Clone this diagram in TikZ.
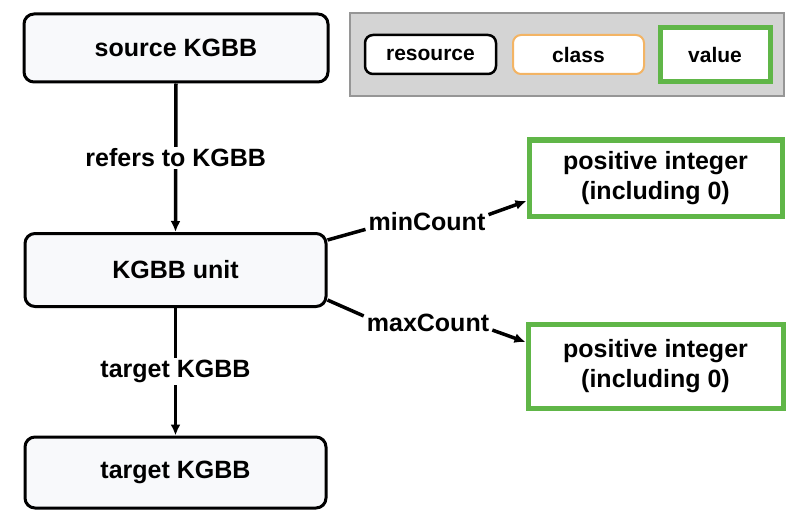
\documentclass[tikz,border=0pt]{standalone}
\usepackage{fontspec}
\setmainfont{Liberation Sans}
\usetikzlibrary{arrows.meta}
\definecolor{boxfill}{RGB}{248,249,251}
\definecolor{leggray}{RGB}{212,212,212}
\definecolor{legborder}{RGB}{150,150,150}
\definecolor{valgreen}{RGB}{96,182,72}
\definecolor{clsorange}{RGB}{243,180,100}
\tikzset{
  every node/.style={font=\bfseries\fontsize{25}{30}\selectfont, align=center},
  resbox/.style={draw=black, line width=3pt, rounded corners=10pt, fill=boxfill, inner sep=0pt},
  valbox/.style={draw=valgreen, line width=5pt, fill=white, inner sep=0pt},
  legres/.style={draw=black, line width=2.5pt, rounded corners=8pt, fill=white, inner sep=0pt,
    minimum width=131pt, minimum height=39pt, font=\bfseries\fontsize{21}{25}\selectfont},
  legcls/.style={draw=clsorange, line width=2pt, rounded corners=8pt, fill=white, inner sep=0pt,
    minimum width=131pt, minimum height=39pt, font=\bfseries\fontsize{21}{25}\selectfont},
  legval/.style={draw=valgreen, line width=5pt, fill=white, inner sep=0pt,
    minimum width=110pt, minimum height=54pt, font=\bfseries\fontsize{21}{25}\selectfont},
  conn/.style={line width=3.5pt, draw=black},
  arr/.style={conn, -{Latex[length=11pt,width=10pt]}},
  lab/.style={fill=white, inner sep=2pt},
  elab/.style={inner sep=0pt}
}
\begin{document}
\begin{tikzpicture}[x=1pt,y=-1pt]
\fill[white] (0,0) rectangle (800,532);
\useasboundingbox (0,0) rectangle (800,532);

% main boxes
\node[resbox, minimum width=304pt, minimum height=68pt] (src) at (176,48) {source KGBB};
\node[resbox, minimum width=301pt, minimum height=73pt] (unit) at (175.5,270) {KGBB unit};
\node[resbox, minimum width=301pt, minimum height=71pt] (tgt) at (175.5,472.5) {target KGBB};

% value boxes
\node[valbox, minimum width=253pt, minimum height=76pt] (v1) at (655.5,178) {positive integer\\(including 0)};
\node[valbox, minimum width=255pt, minimum height=84pt] (v2) at (655.5,366) {positive integer\\(including 0)};

% vertical connectors
\draw[arr] (src.south) -- node[lab] {refers to KGBB} (unit.north);
\draw[arr] (unit.south) -- node[lab] {target KGBB} (tgt.north);

% minCount / maxCount
\node[elab] (minlab) at (427,222) {minCount};
\node[elab] (maxlab) at (428,323) {maxCount};
\coordinate (minstart) at ([yshift=30pt]unit.east);
\coordinate (maxstart) at ([yshift=-30pt]unit.east);
\coordinate (v1in) at ([yshift=-23pt]v1.west);
\coordinate (v2in) at ([yshift=24pt]v2.west);
\draw[conn] (minstart) -- ([xshift=-3pt,yshift=2pt]minlab.south west);
\draw[arr] ([xshift=3pt,yshift=-2pt]minlab.north east) -- (v1in);
\draw[conn] (maxstart) -- ([xshift=-3pt,yshift=-2pt]maxlab.north west);
\draw[arr] ([xshift=3pt,yshift=2pt]maxlab.south east) -- (v2in);

% legend
\node[draw=legborder, line width=1.5pt, fill=leggray, minimum width=434pt, minimum height=83pt, inner sep=0pt] (legend) at (567,54.5) {};
\node[legres] (lres) at (430.5,54.5) {resource};
\node[legcls] (lcls) at (578.5,54.5) {class};
\node[legval] (lval) at (715,54.5) {value};
\end{tikzpicture}
\end{document}
